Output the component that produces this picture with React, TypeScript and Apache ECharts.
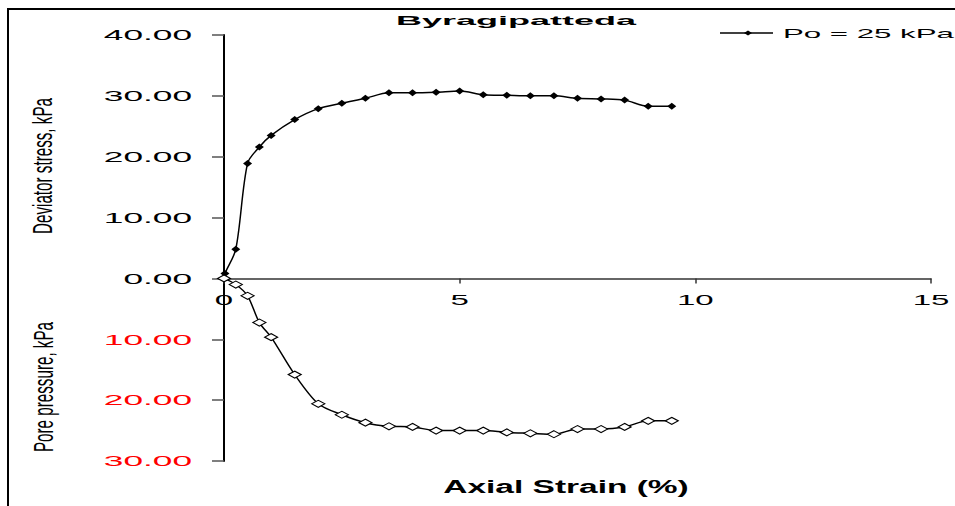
import React, { useEffect, useRef } from "react";
import * as echarts from "echarts";

// Deviator stress (kPa) vs axial strain (%)
const devStrain = [0, 0.02, 0.25, 0.5, 0.75, 1.0, 1.5, 2.0, 2.5, 3.0, 3.5, 4.0, 4.5, 5.0, 5.5, 6.0, 6.5, 7.0, 7.5, 8.0, 8.5, 9.0, 9.5];
const devStress = [0, 0.8, 4.8, 18.9, 21.6, 23.5, 26.1, 27.9, 28.8, 29.6, 30.5, 30.5, 30.6, 30.8, 30.2, 30.1, 30.0, 30.0, 29.6, 29.5, 29.3, 28.3, 28.3];

// Pore pressure (kPa) vs axial strain (%), plotted downward
const poreStrain = [0, 0.25, 0.5, 0.75, 1.0, 1.5, 2.0, 2.5, 3.0, 3.5, 4.0, 4.5, 5.0, 5.5, 6.0, 6.5, 7.0, 7.5, 8.0, 8.5, 9.0, 9.5];
const porePressure = [0, 1.0, 2.85, 7.25, 9.65, 15.8, 20.6, 22.4, 23.7, 24.3, 24.4, 25.0, 25.0, 25.0, 25.3, 25.45, 25.6, 24.75, 24.75, 24.4, 23.4, 23.4];

const xTicks = [0, 5, 10, 15];
const yTicks = [-30, -20, -10, 0, 10, 20, 30, 40];

const titleText = "Byragipatteda";
const legendLabel = "Po = 25 kPa";
const xName = "Axial Strain (%)";
const yNameTop = "Deviator stress, kPa";
const yNameBottom = "Pore pressure, kPa";

export default function App() {
  const ref = useRef<HTMLDivElement>(null);

  useEffect(() => {
    document.body.style.margin = "0";
    const chart = echarts.init(ref.current!, null, { renderer: "svg" });
    const font = "'Liberation Sans', Arial, sans-serif";

    chart.setOption({
      animation: false,
      grid: { left: 224, right: 24, top: 35, bottom: 45, containLabel: false },
      xAxis: {
        type: "value",
        min: 0,
        max: 15,
        interval: 5,
        axisLine: { onZero: true, lineStyle: { color: "#333", width: 1.5 } },
        axisTick: { show: true, length: 5, inside: false, lineStyle: { color: "#333", width: 1.5 } },
        axisLabel: { show: false },
        splitLine: { show: false },
      },
      yAxis: {
        type: "value",
        min: -30,
        max: 40,
        interval: 10,
        axisLine: { show: true, lineStyle: { color: "#000", width: 2 } },
        axisTick: { show: true, length: 12, lineStyle: { color: "#555", width: 1.5 } },
        axisLabel: { show: false },
        splitLine: { show: false },
      },
      series: [
        {
          name: legendLabel,
          type: "line",
          smooth: 0.3,
          data: devStrain.map((x, i) => [x, devStress[i]]),
          symbol: "diamond",
          symbolSize: [9, 7],
          itemStyle: { color: "#000" },
          lineStyle: { color: "#000", width: 1.5 },
          z: 3,
        },
        {
          name: "Pore pressure",
          type: "line",
          smooth: 0.3,
          data: poreStrain.map((x, i) => [x, -porePressure[i]]),
          symbol: "diamond",
          symbolSize: [13, 7],
          itemStyle: { color: "#fff", borderColor: "#000", borderWidth: 1.2 },
          lineStyle: { color: "#000", width: 1.5 },
          z: 3,
        },
      ],
    });

    const g: any[] = [];
    // frame
    g.push({ type: "line", shape: { x1: 7, y1: 9, x2: 955, y2: 9 }, style: { stroke: "#000", lineWidth: 2 } });
    g.push({ type: "line", shape: { x1: 8, y1: 8, x2: 8, y2: 506 }, style: { stroke: "#000", lineWidth: 2 } });

    // y tick labels
    yTicks.forEach((v) => {
      const p = chart.convertToPixel({ gridIndex: 0 }, [0, v]) as number[];
      g.push({
        type: "text",
        x: p[0] - 32,
        y: p[1],
        scaleX: 2.35,
        style: {
          text: Math.abs(v).toFixed(2),
          font: `15px ${font}`,
          fill: v < 0 ? "#ff0000" : "#000",
          textAlign: "right",
          textVerticalAlign: "middle",
        },
      });
    });
    // x tick labels
    xTicks.forEach((v) => {
      const p = chart.convertToPixel({ gridIndex: 0 }, [v, 0]) as number[];
      g.push({
        type: "text",
        x: p[0],
        y: p[1] + 21,
        scaleX: 2.2,
        style: {
          text: String(v),
          font: `15px ${font}`,
          fill: "#000",
          textAlign: "center",
          textVerticalAlign: "middle",
        },
      });
    });

    // title
    g.push({
      type: "text",
      x: 516,
      y: 21,
      scaleX: 3.0,
      style: { text: titleText, font: `bold 12px ${font}`, fill: "#000", textAlign: "center", textVerticalAlign: "middle" },
    });
    // x axis name
    g.push({
      type: "text",
      x: 566,
      y: 487,
      scaleX: 1.86,
      style: { text: xName, font: `bold 18px ${font}`, fill: "#000", textAlign: "center", textVerticalAlign: "middle" },
    });
    // y axis names (rotated)
    g.push({
      type: "text",
      x: 43,
      y: 166,
      rotation: Math.PI / 2,
      scaleY: 1.85,
      style: { text: yNameTop, font: `15.2px ${font}`, fill: "#000", textAlign: "center", textVerticalAlign: "middle" },
    });
    g.push({
      type: "text",
      x: 44,
      y: 387,
      rotation: Math.PI / 2,
      scaleY: 1.85,
      style: { text: yNameBottom, font: `15.2px ${font}`, fill: "#000", textAlign: "center", textVerticalAlign: "middle" },
    });

    // legend
    g.push({ type: "line", shape: { x1: 720, y1: 33, x2: 773, y2: 33 }, style: { stroke: "#000", lineWidth: 1.5 } });
    g.push({
      type: "polygon",
      shape: { points: [[744, 33], [748, 30.5], [752, 33], [748, 35.5]] },
      style: { fill: "#000" },
    });
    g.push({
      type: "text",
      x: 783,
      y: 33,
      scaleX: 2.4,
      style: { text: legendLabel, font: `13px ${font}`, fill: "#000", textAlign: "left", textVerticalAlign: "middle" },
    });

    chart.setOption({ graphic: g });

    return () => chart.dispose();
  }, []);

  return <div ref={ref} style={{ width: 955, height: 506 }} />;
}
